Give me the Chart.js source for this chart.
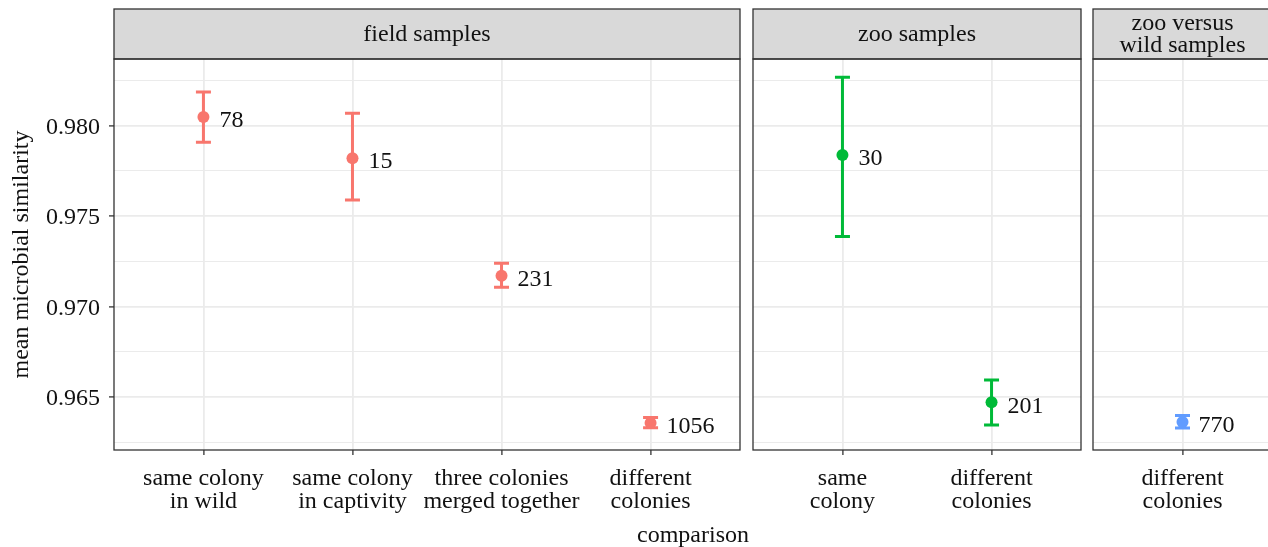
<!DOCTYPE html>
<html>
<head>
<meta charset="utf-8">
<script src="https://cdn.jsdelivr.net/npm/chart.js@4.4.1/dist/chart.umd.min.js"></script>
<style>
  html, body { margin: 0; padding: 0; background: #ffffff; overflow: hidden; width: 1268px; height: 547px; }
  canvas { position: absolute; top: 0; }
  #xtitle { position: absolute; left: 593px; width: 200px; top: 521px; height: 26px; line-height: 26px;
            text-align: center; font-family: 'Liberation Serif', 'Times New Roman', serif; font-size: 24px; color: #111; }
</style>
</head>
<body>
<canvas id="c1" width="746" height="547" style="left:0px"></canvas>
<canvas id="c2" width="344" height="547" style="left:746px"></canvas>
<canvas id="c3" width="196" height="547" style="left:1086px"></canvas>
<div id="xtitle">comparison</div>
<script>
// ---------------- data ----------------
const yMajorTicks = [0.965, 0.970, 0.975, 0.980];
const yMinorTicks = [0.9625, 0.9675, 0.9725, 0.9775, 0.9825];
const yMin = 0.96207;
const yMax = 0.98367;
const yTitle = 'mean microbial similarity';
const xTitle = 'comparison';

// field samples
const fieldStrip = ['field samples'];
const fieldCategories = [['same colony', 'in wild'], ['same colony', 'in captivity'], ['three colonies', 'merged together'], ['different', 'colonies']];
const fieldMeans = [0.98047, 0.97819, 0.97170, 0.96356];
const fieldLower = [0.97907, 0.97588, 0.97106, 0.96330];
const fieldUpper = [0.98185, 0.98067, 0.97239, 0.96386];
const fieldN = ['78', '15', '231', '1056'];

// zoo samples
const zooStrip = ['zoo samples'];
const zooCategories = [['same', 'colony'], ['different', 'colonies']];
const zooMeans = [0.97837, 0.96471];
const zooLower = [0.97386, 0.96345];
const zooUpper = [0.98266, 0.96594];
const zooN = ['30', '201'];

// zoo versus wild samples
const zvwStrip = ['zoo versus', 'wild samples'];
const zvwCategories = [['different', 'colonies']];
const zvwMeans = [0.96362];
const zvwLower = [0.96328];
const zvwUpper = [0.96398];
const zvwN = ['770'];

// ---------------- styling ----------------
const FONT = "'Liberation Serif', 'Times New Roman', serif";
const FS = 24;
const TEXT = '#111111';
const GRID = '#EBEBEB';
const BORDER = '#333333';
const STRIP_FILL = '#D9D9D9';
const STRIP_TOP = 9;

const yTicksAll = yMajorTicks.concat(yMinorTicks).sort((a, b) => a - b);
const isMajor = v => yMajorTicks.some(m => Math.abs(m - v) < 1e-9);

const panelPlugin = {
  id: 'panelDeco',
  beforeDatasetsDraw(chart) {
    const o = chart.options.plugins.panelDeco;
    const ctx = chart.ctx, xs = chart.scales.x, ys = chart.scales.y;
    ctx.save();
    ctx.strokeStyle = o.color;
    ctx.lineWidth = 3;
    ctx.lineCap = 'butt';
    o.lower.forEach((lo, i) => {
      const x = xs.getPixelForValue(i + 1);
      const y1 = ys.getPixelForValue(lo);
      const y2 = ys.getPixelForValue(o.upper[i]);
      ctx.beginPath();
      ctx.moveTo(x, y1); ctx.lineTo(x, y2);
      ctx.moveTo(x - 7.5, y1); ctx.lineTo(x + 7.5, y1);
      ctx.moveTo(x - 7.5, y2); ctx.lineTo(x + 7.5, y2);
      ctx.stroke();
    });
    ctx.restore();
  },
  afterDatasetsDraw(chart) {
    const o = chart.options.plugins.panelDeco;
    const ctx = chart.ctx, xs = chart.scales.x, ys = chart.scales.y;
    ctx.save();
    ctx.fillStyle = TEXT;
    ctx.font = FS + 'px ' + FONT;
    ctx.textAlign = 'left';
    ctx.textBaseline = 'middle';
    o.labels.forEach((t, i) => {
      const x = xs.getPixelForValue(i + 1);
      const y = ys.getPixelForValue(o.means[i]);
      ctx.fillText(t, x + 16, y + 4);
    });
    ctx.restore();
  },
  afterDraw(chart) {
    const o = chart.options.plugins.panelDeco;
    const ctx = chart.ctx, a = chart.chartArea;
    ctx.save();
    ctx.strokeStyle = BORDER;
    ctx.lineWidth = 1.3;
    // strip
    ctx.fillStyle = STRIP_FILL;
    ctx.fillRect(a.left, STRIP_TOP, a.right - a.left, a.top - STRIP_TOP);
    ctx.strokeRect(a.left, STRIP_TOP, a.right - a.left, a.top - STRIP_TOP);
    // panel border
    ctx.strokeRect(a.left, a.top, a.right - a.left, a.bottom - a.top);
    // strip text
    ctx.fillStyle = TEXT;
    ctx.font = FS + 'px ' + FONT;
    ctx.textAlign = 'center';
    ctx.textBaseline = 'middle';
    const cx = (a.left + a.right) / 2;
    const cy = (STRIP_TOP + a.top) / 2 + 1;
    const lh = 22;
    o.strip.forEach((t, i) => {
      ctx.fillText(t, cx, cy + (i - (o.strip.length - 1) / 2) * lh);
    });
    ctx.restore();
  }
};

function makePanel(id, cats, means, lower, upper, labels, color, strip, showY, pad) {
  const xs = cats.map((_, i) => i + 1);
  return new Chart(document.getElementById(id), {
    type: 'scatter',
    data: {
      datasets: [{
        data: xs.map((x, i) => ({ x: x, y: means[i] })),
        backgroundColor: color,
        borderColor: color,
        borderWidth: 0,
        pointRadius: 6,
        pointHoverRadius: 6
      }]
    },
    options: {
      responsive: false,
      animation: false,
      events: [],
      layout: { padding: { top: 59, left: pad[0], right: pad[1], bottom: 0 } },
      plugins: {
        legend: { display: false },
        tooltip: { enabled: false },
        panelDeco: { color: color, lower: lower, upper: upper, means: means, labels: labels, strip: strip }
      },
      scales: {
        x: {
          type: 'linear',
          min: 0.4,
          max: cats.length + 0.6,
          afterBuildTicks: s => { s.ticks = xs.map(v => ({ value: v })); },
          afterFit: s => { s.height = 97; },
          ticks: {
            callback: v => cats[Math.round(v) - 1],
            font: { family: FONT, size: FS, lineHeight: 0.96 },
            color: TEXT,
            padding: 12,
            maxRotation: 0,
            autoSkip: false
          },
          grid: { color: GRID, lineWidth: 1.8, tickColor: BORDER, tickLength: 5, tickWidth: 1.3 },
          border: { display: false }
        },
        y: {
          type: 'linear',
          min: yMin,
          max: yMax,
          afterBuildTicks: s => { s.ticks = yTicksAll.map(v => ({ value: v })); },
          afterFit: s => { s.width = showY ? 114 : 0; },
          ticks: {
            display: showY,
            callback: v => isMajor(v) ? v.toFixed(3) : '',
            font: { family: FONT, size: FS },
            color: TEXT,
            padding: 9,
            labelOffset: 2
          },
          grid: {
            color: GRID,
            lineWidth: c => isMajor(c.tick.value) ? 1.8 : 1.0,
            drawTicks: showY,
            tickLength: 5,
            tickWidth: 1.3,
            tickColor: c => isMajor(c.tick.value) ? BORDER : 'rgba(0,0,0,0)'
          },
          border: { display: false },
          title: {
            display: showY,
            text: yTitle,
            font: { family: FONT, size: FS },
            color: TEXT,
            padding: { top: 7, bottom: 0 }
          }
        }
      }
    },
    plugins: [panelPlugin]
  });
}

document.getElementById('xtitle').textContent = xTitle;
makePanel('c1', fieldCategories, fieldMeans, fieldLower, fieldUpper, fieldN, '#F8766D', fieldStrip, true, [0, 4]);
makePanel('c2', zooCategories, zooMeans, zooLower, zooUpper, zooN, '#00BA38', zooStrip, false, [7, 9]);
makePanel('c3', zvwCategories, zvwMeans, zvwLower, zvwUpper, zvwN, '#619CFF', zvwStrip, false, [7, 10]);
</script>
</body>
</html>
